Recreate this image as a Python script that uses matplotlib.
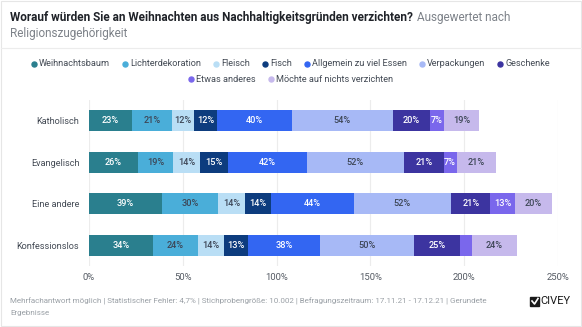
import matplotlib.pyplot as plt
from matplotlib.patches import Rectangle
from matplotlib.lines import Line2D
import numpy as np

plt.rcParams['font.family'] = ['Roboto', 'DejaVu Sans']

# Daten
gruppen = ['Katholisch', 'Evangelisch', 'Eine andere', 'Konfessionslos']
antworten = ['Weihnachtsbaum', 'Lichterdekoration', 'Fleisch', 'Fisch',
             'Allgemein zu viel Essen', 'Verpackungen', 'Geschenke',
             'Etwas anderes', 'Möchte auf nichts verzichten']
weihnachtsbaum = [23, 26, 39, 34]
lichterdekoration = [21, 19, 30, 24]
fleisch = [12, 14, 14, 14]
fisch = [12, 15, 14, 13]
zu_viel_essen = [40, 42, 44, 38]
verpackungen = [54, 52, 52, 50]
geschenke = [20, 21, 21, 25]
etwas_anderes = [7, 7, 13, 6]
nichts = [19, 21, 20, 24]
x_ticks = [0, 50, 100, 150, 200, 250]

werte = [weihnachtsbaum, lichterdekoration, fleisch, fisch, zu_viel_essen,
         verpackungen, geschenke, etwas_anderes, nichts]
farben = ['#2a7f8e', '#4aaed9', '#b9def5', '#0d3c7e', '#3366f2',
          '#a7b9f6', '#3c34a0', '#7a67ec', '#c6b9ec']
hell = [False, True, True, False, False, True, False, False, True]

W, H = 582, 327
fig = plt.figure(figsize=(W / 100, H / 100), dpi=100)
ax = fig.add_axes([89 / W, 1 - 266 / H, (558 - 89) / W, 166 / H])

y = np.arange(len(gruppen))
links = np.zeros(len(gruppen))
for name, vals, col, light in zip(antworten, werte, farben, hell):
    vals = np.array(vals, dtype=float)
    ax.barh(y, vals, left=links, height=0.5, color=col, label=name, zorder=2)
    for yi, l, v in zip(y, links, vals):
        if v >= 7:
            ax.text(l + v / 2, yi, f'{int(v)}%', ha='center', va='center',
                    fontsize=6.6, fontweight='medium',
                    color='#3d4656' if light else 'white', zorder=3)
    links += vals

ax.set_xlim(0, 250)
ax.set_ylim(3.5, -0.5)
ax.set_yticks(y)
ax.set_yticklabels(gruppen, fontsize=6.6, color='#444b55')
ax.set_xticks(x_ticks)
ax.set_xticklabels([f'{t}%' for t in x_ticks], fontsize=6.8, color='#555b64')
ax.tick_params(length=0, axis='y', pad=7)
ax.tick_params(length=0, axis='x', pad=5)
ax.grid(axis='x', color='#ececec', linewidth=0.8, zorder=0)
for s in ax.spines.values():
    s.set_visible(False)

# Rahmen und Trennlinie
fig.patches.append(Rectangle((1 / W, 1 / H), (W - 2) / W, (H - 2) / H,
                             transform=fig.transFigure, fill=False,
                             edgecolor='#e6e6e6', linewidth=0.8))
fig.lines.append(Line2D([1 / W, (W - 1) / W], [1 - 48 / H, 1 - 48 / H],
                        transform=fig.transFigure, color='#ececec', linewidth=0.8))

# Titel
fig.canvas.draw()
r = fig.canvas.get_renderer()
t1 = fig.text(10 / W, 1 - 17 / H, 'Worauf würden Sie an Weihnachten aus Nachhaltigkeitsgründen verzichten?',
              fontsize=8.5, fontweight='bold', color='#1f2228', va='center')
bb = t1.get_window_extent(r)
fig.text((bb.x1 + 4) / W, 1 - 17 / H, 'Ausgewertet nach', fontsize=8.5,
         color='#7d8289', va='center')
fig.text(10 / W, 1 - 34 / H, 'Religionszugehörigkeit', fontsize=8.5,
         color='#7d8289', va='center')

# Legende (zentriert, zwei Zeilen)
zeilen = [list(range(7)), [7, 8]]
zeilen_y = [64, 79]
for idx, yy in zip(zeilen, zeilen_y):
    breiten = []
    for i in idx:
        tt = fig.text(0, 0, antworten[i], fontsize=6.6)
        breiten.append(tt.get_window_extent(r).width)
        tt.remove()
    gesamt = sum(b + 8 for b in breiten) + 12 * (len(idx) - 1)
    x = (W - gesamt) / 2
    for i, b in zip(idx, breiten):
        fig.lines.append(Line2D([(x + 2.5) / W], [1 - yy / H], marker='o',
                                markersize=3.6, color=farben[i], linestyle='',
                                transform=fig.transFigure))
        fig.text((x + 7.5) / W, 1 - yy / H, antworten[i], fontsize=6.6,
                 color='#444b55', va='center')
        x += b + 8 + 12

# Fußzeile
fig.text(10 / W, 1 - 301 / H,
         'Mehrfachantwort möglich | Statistischer Fehler: 4,7% | Stichprobengröße: 10.002 | '
         'Befragungszeitraum: 17.11.21 - 17.12.21 | Gerundete',
         fontsize=5.8, color='#9aa0a6', va='center')
fig.text(10 / W, 1 - 313 / H, 'Ergebnisse', fontsize=5.8, color='#9aa0a6', va='center')

# Logo
fig.patches.append(Rectangle((530 / W, 1 - 306 / H), 9 / W, 9 / H,
                             transform=fig.transFigure, color='#1a1a1a'))
fig.lines.append(Line2D([532 / W, 534.5 / W, 538 / W],
                        [1 - 301 / H, 1 - 304 / H, 1 - 298.5 / H],
                        transform=fig.transFigure, color='white', linewidth=1.2))
fig.text(540 / W, 1 - 301.5 / H, 'CIVEY', fontsize=8, color='#1a1a1a', va='center')

fig.savefig('out.png', dpi=100)
